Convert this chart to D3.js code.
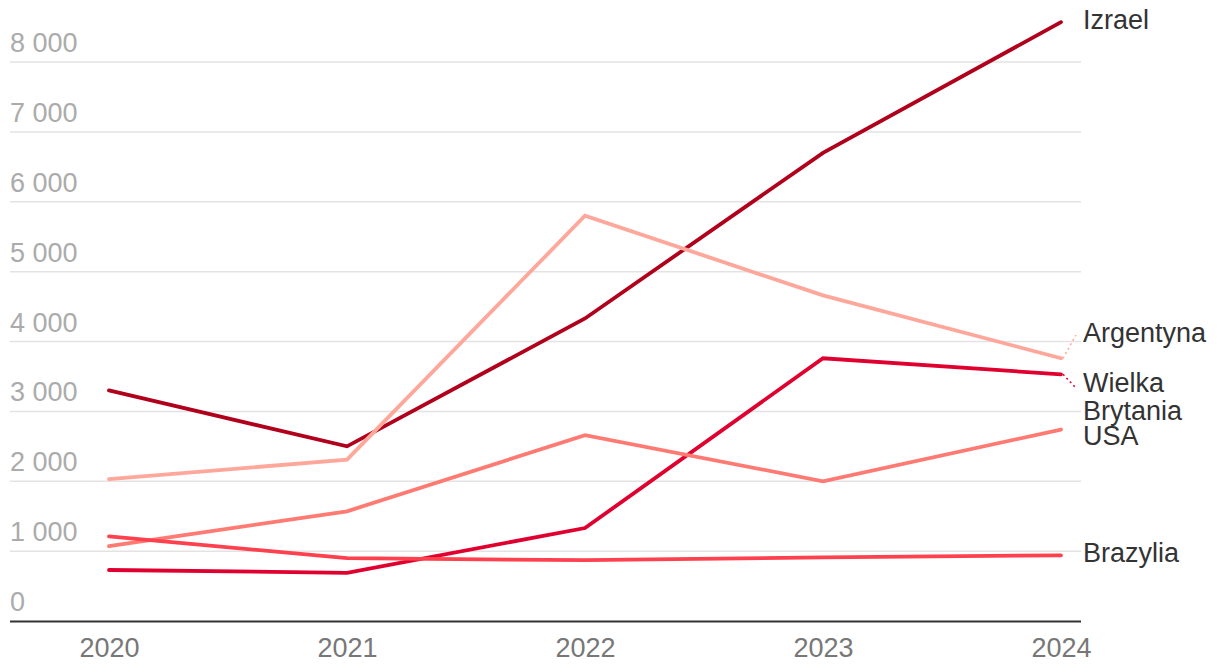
<!DOCTYPE html>
<html>
<head>
<meta charset="utf-8">
<script src="https://cdn.jsdelivr.net/npm/d3@7"></script>
<style>
  body { margin: 0; background: #fff; }
  svg { font-family: "Liberation Sans", Arial, sans-serif; }
</style>
</head>
<body>
<script>
// data
var years = [2020, 2021, 2022, 2023, 2024];
var yTicks = [0, 1000, 2000, 3000, 4000, 5000, 6000, 7000, 8000];
var izrael = [3300, 2500, 4330, 6700, 8570];
var argentyna = [2030, 2310, 5800, 4660, 3760];
var wielkaBrytania = [730, 690, 1330, 3760, 3530];
var usa = [1070, 1570, 2660, 2000, 2740];
var brazylia = [1210, 900, 870, 910, 940];

// labelY = baseline of the first label line
var series = [
  { name: ["Izrael"], values: izrael, color: "#b0001c", labelY: 29 },
  { name: ["Argentyna"], values: argentyna, color: "#ffa79b", labelY: 342 },
  { name: ["Wielka", "Brytania"], values: wielkaBrytania, color: "#e0002f", labelY: 392 },
  { name: ["USA"], values: usa, color: "#ff7a72", labelY: 445 },
  { name: ["Brazylia"], values: brazylia, color: "#ff404e", labelY: 562 }
];

var width = 1220, height = 672;
var left = 10, right = 1081;
var fs = 27;

var x = d3.scalePoint().domain(years).range([109, 1061]);
var y = d3.scaleLinear().domain([0, 8000]).range([621, 62]);

var svg = d3.select("body").append("svg")
    .attr("width", width)
    .attr("height", height);

// grid lines
svg.append("g").selectAll("line")
    .data(yTicks.filter(function(d) { return d > 0; }))
  .enter().append("line")
    .attr("x1", left).attr("x2", right)
    .attr("y1", function(d) { return y(d); })
    .attr("y2", function(d) { return y(d); })
    .attr("stroke", "#e3e3e3")
    .attr("stroke-width", 1.5);

// y tick labels (sit above the grid line)
svg.append("g").selectAll("text")
    .data(yTicks)
  .enter().append("text")
    .attr("x", left)
    .attr("y", function(d) { return y(d) - 10; })
    .attr("fill", "#ababab")
    .attr("font-size", fs)
    .text(function(d) { return d3.format(",")(d).replace(/,/g, " "); });

// x axis
var xAxis = svg.append("g")
    .attr("transform", "translate(0,621)")
    .call(d3.axisBottom(x).tickSize(0).tickPadding(17).tickFormat(d3.format("d")));
xAxis.select(".domain").remove();
xAxis.selectAll("text").attr("font-size", fs).attr("fill", "#777").attr("font-family", "Liberation Sans, Arial, sans-serif");
svg.append("line")
    .attr("x1", left).attr("x2", right)
    .attr("y1", 621.5).attr("y2", 621.5)
    .attr("stroke", "#333").attr("stroke-width", 1.8);

var line = d3.line()
    .x(function(d, i) { return x(years[i]); })
    .y(function(d) { return y(d); });

// lines
svg.append("g").selectAll("path")
    .data(series)
  .enter().append("path")
    .attr("d", function(d) { return line(d.values); })
    .attr("fill", "none")
    .attr("stroke", function(d) { return d.color; })
    .attr("stroke-width", 3.8)
    .attr("stroke-linejoin", "miter")
    .attr("stroke-linecap", "round");

// dotted leader lines to labels
svg.append("g").selectAll("line")
    .data(series)
  .enter().append("line")
    .attr("x1", x(2024) + 2)
    .attr("y1", function(d) { return y(d.values[4]); })
    .attr("x2", 1076)
    .attr("y2", function(d) { return d.name.length > 1 ? d.labelY - 4 : d.labelY - 7; })
    .attr("stroke", function(d) { return d.color; })
    .attr("stroke-width", 1.5)
    .attr("stroke-dasharray", "2,3")
    .attr("display", function(d) { return Math.abs(y(d.values[4]) - (d.labelY - 9)) < 8 ? "none" : null; });

// labels
var labels = svg.append("g").selectAll("text")
    .data(series)
  .enter().append("text")
    .attr("x", 1083)
    .attr("y", function(d) { return d.labelY; })
    .attr("font-size", fs)
    .attr("fill", "#333");
labels.selectAll("tspan")
    .data(function(d) { return d.name; })
  .enter().append("tspan")
    .attr("x", 1083)
    .attr("dy", function(d, i) { return i === 0 ? 0 : 28; })
    .text(function(d) { return d; });
</script>
</body>
</html>
